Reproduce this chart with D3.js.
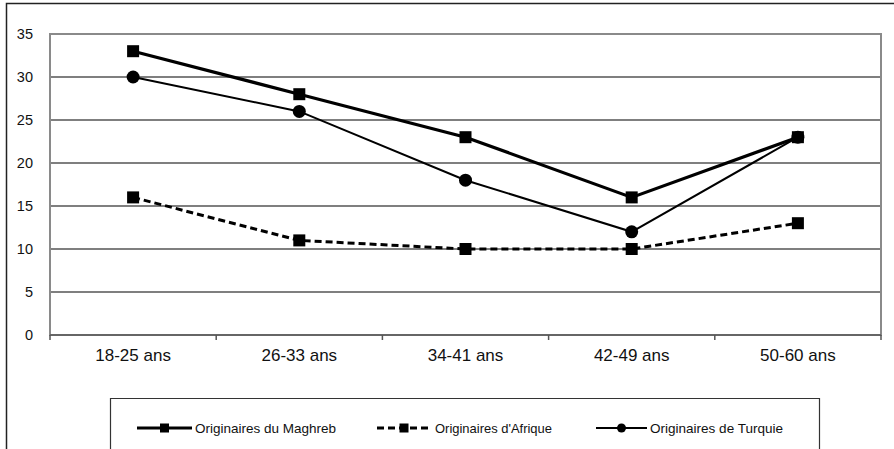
<!DOCTYPE html>
<html>
<head>
<meta charset="utf-8">
<script src="https://cdn.jsdelivr.net/npm/d3@7"></script>
<style>
  body { margin: 0; background: #fff; }
  svg { display: block; font-family: Arial, "Liberation Sans", sans-serif; }
</style>
</head>
<body>
<div id="chart"></div>
<script>
// données
var categories = ['18-25 ans', '26-33 ans', '34-41 ans', '42-49 ans', '50-60 ans'];
var seriesNames = ['Originaires du Maghreb', "Originaires d'Afrique", 'Originaires de Turquie'];
var maghreb = [33, 28, 23, 16, 23];
var afrique = [16, 11, 10, 10, 13];
var turquie = [30, 26, 18, 12, 23];
var yTicks = [0, 5, 10, 15, 20, 25, 30, 35];

var width = 894, height = 449;
var margin = { left: 50, right: 13, top: 34, bottom: 114 };

var svg = d3.select('#chart').append('svg')
    .attr('width', width)
    .attr('height', height);

// cadre extérieur
svg.append('path')
    .attr('d', 'M6.5,' + height + 'V3.5H' + width)
    .attr('fill', 'none')
    .attr('stroke', '#222')
    .attr('stroke-width', 1.5);

var x = d3.scaleBand()
    .domain(categories)
    .range([margin.left, width - margin.right]);
var y = d3.scaleLinear()
    .domain([0, 35])
    .range([height - margin.bottom, margin.top]);

var main = svg.append('g').classed('main', true);

// grille
main.append('g').selectAll('line')
    .data(yTicks.filter(function(d) { return d > 0 && d < 35; }))
    .enter()
    .append('line')
    .attr('x1', x.range()[0])
    .attr('x2', x.range()[1])
    .attr('y1', function(d) { return y(d); })
    .attr('y2', function(d) { return y(d); })
    .attr('stroke', '#555')
    .attr('stroke-width', 1.5);

// zone du graphique
main.append('rect')
    .attr('x', x.range()[0])
    .attr('y', y(35))
    .attr('width', x.range()[1] - x.range()[0])
    .attr('height', y(0) - y(35))
    .attr('fill', 'none')
    .attr('stroke', '#8a8a8a')
    .attr('stroke-width', 2);

// axe x
var xAxis = main.append('g')
    .attr('transform', 'translate(0,' + y(0) + ')');
xAxis.append('line')
    .attr('x1', x.range()[0]).attr('x2', x.range()[1])
    .attr('stroke', '#666').attr('stroke-width', 2);
var bounds = categories.map(function(c) { return x(c); }).concat([x.range()[1]]);
xAxis.selectAll('line.tick')
    .data(bounds)
    .enter()
    .append('line')
    .classed('tick', true)
    .attr('x1', function(d) { return d; })
    .attr('x2', function(d) { return d; })
    .attr('y1', 0).attr('y2', 5)
    .attr('stroke', '#555').attr('stroke-width', 1.5);
xAxis.selectAll('text')
    .data(categories)
    .enter()
    .append('text')
    .attr('x', function(d) { return x(d) + x.bandwidth() / 2; })
    .attr('y', 26)
    .style('text-anchor', 'middle')
    .style('font-size', '17px')
    .attr('fill', '#111')
    .text(function(d) { return d; });

// axe y
main.append('g').selectAll('text')
    .data(yTicks)
    .enter()
    .append('text')
    .attr('x', 33)
    .attr('y', function(d) { return y(d); })
    .attr('dy', '0.35em')
    .style('text-anchor', 'end')
    .style('font-size', '14.5px')
    .attr('fill', '#111')
    .text(function(d) { return d; });

// séries
var series = [
    { name: seriesNames[0], values: maghreb, width: 3.2, dash: null, marker: 'square' },
    { name: seriesNames[1], values: afrique, width: 3, dash: '7,4', marker: 'square' },
    { name: seriesNames[2], values: turquie, width: 2, dash: null, marker: 'circle' }
];

var line = d3.line()
    .x(function(d, i) { return x(categories[i]) + x.bandwidth() / 2; })
    .y(function(d) { return y(d); });

function drawMarker(g, type, cx, cy) {
    if (type === 'square') {
        g.append('rect')
            .attr('x', cx - 6).attr('y', cy - 6)
            .attr('width', 12).attr('height', 12)
            .attr('fill', '#000');
    } else {
        g.append('circle')
            .attr('cx', cx).attr('cy', cy).attr('r', 6.5)
            .attr('fill', '#000');
    }
}

series.forEach(function(s) {
    var g = main.append('g');
    g.append('path')
        .attr('d', line(s.values))
        .attr('fill', 'none')
        .attr('stroke', '#000')
        .attr('stroke-width', s.width)
        .attr('stroke-dasharray', s.dash);
    s.values.forEach(function(v, i) {
        drawMarker(g, s.marker, x(categories[i]) + x.bandwidth() / 2, y(v));
    });
});

// légende
var legend = svg.append('g').classed('legend', true);
legend.append('path')
    .attr('d', 'M110.5,' + height + 'V398.5H819.5V' + height)
    .attr('fill', 'none')
    .attr('stroke', '#333')
    .attr('stroke-width', 1.2);

var legendItems = [
    { x1: 137, x2: 192, tx: 195, tw: 141 },
    { x1: 377, x2: 431, tx: 435, tw: 117 },
    { x1: 596, x2: 647, tx: 650, tw: 133 }
];
var ly = 428;
series.forEach(function(s, i) {
    var it = legendItems[i];
    var g = legend.append('g');
    g.append('line')
        .attr('x1', it.x1).attr('x2', it.x2)
        .attr('y1', ly).attr('y2', ly)
        .attr('stroke', '#000')
        .attr('stroke-width', s.width)
        .attr('stroke-dasharray', s.dash ? '7,4' : null);
    var cx = (it.x1 + it.x2) / 2;
    if (s.marker === 'square') {
        g.append('rect').attr('x', cx - 4.5).attr('y', ly - 4.5)
            .attr('width', 9).attr('height', 9).attr('fill', '#000');
    } else {
        g.append('circle').attr('cx', cx).attr('cy', ly).attr('r', 4.5).attr('fill', '#000');
    }
    g.append('text')
        .attr('x', it.tx)
        .attr('y', ly)
        .attr('dy', '0.35em')
        .attr('textLength', it.tw)
        .attr('lengthAdjust', 'spacingAndGlyphs')
        .style('font-size', '13px')
        .attr('fill', '#111')
        .text(s.name);
});
</script>
</body>
</html>
